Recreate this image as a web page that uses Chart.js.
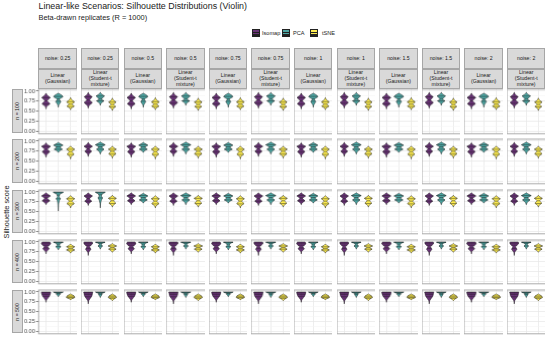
<!DOCTYPE html>
<html>
<head>
<meta charset="utf-8">
<script src="https://cdn.jsdelivr.net/npm/chart.js@4.4.0/dist/chart.umd.min.js"></script>
<style>
  body { margin: 0; width: 550px; height: 341px; background: #fff; position: relative; overflow: hidden;
         font-family: "Liberation Sans", Arial, sans-serif; color: #1a1a1a; }
  .strip { position: absolute; background: #d9d9d9; border: 0.8px solid #a6a6a6; box-sizing: border-box;
           display: flex; align-items: center; justify-content: center; text-align: center;
           font-size: 5.2px; line-height: 5.9px; color: #1a1a1a; white-space: pre; }
  .rowstrip span { transform: rotate(-90deg); white-space: nowrap; }
  .panel { position: absolute; }
  .txt { position: absolute; white-space: nowrap; }
  .key { position: absolute; width: 7.5px; height: 8px; box-sizing: border-box; border: 0.6px solid #222; }
  .key i { position: absolute; left: 0; right: 0; height: 0; border-top: 0.5px solid #222; }
</style>
</head>
<body>
<script>
// ---- data ----
const noiseLevels = ['0.25', '0.25', '0.5', '0.5', '0.75', '0.75', '1', '1', '1.5', '1.5', '2', '2'];
const scenarios = ['Linear\n(Gaussian)', 'Linear\n(Student-t\nmixture)'];
const scenarioOfColumn = [0, 1, 0, 1, 0, 1, 0, 1, 0, 1, 0, 1];
const sampleSizes = [100, 200, 300, 400, 500];
const methods = ['Isomap', 'PCA', 'tSNE'];
const yTicks = [0, 0.25, 0.5, 0.75, 1];
const yMinor = [0.125, 0.375, 0.625, 0.875];

// violin outlines: [silhouette score, half width], quantiles 25/50/75
const shapes = {
  i1g: { k: [[0.56, 0], [0.62, 0.05], [0.69, 0.34], [0.76, 0.08], [0.84, 0.36], [0.90, 0.10], [0.95, 0]], q: [0.68, 0.76, 0.84] },
  i1t: { k: [[0.58, 0], [0.64, 0.06], [0.72, 0.36], [0.78, 0.10], [0.86, 0.34], [0.92, 0.08], [0.97, 0]], q: [0.70, 0.78, 0.86] },
  p1g: { k: [[0.60, 0], [0.66, 0.04], [0.74, 0.22], [0.80, 0.06], [0.86, 0.40], [0.90, 0.30], [0.95, 0]], q: [0.75, 0.81, 0.87] },
  p1t: { k: [[0.65, 0], [0.70, 0.05], [0.76, 0.32], [0.80, 0.08], [0.88, 0.36], [0.94, 0.06], [0.97, 0]], q: [0.76, 0.82, 0.88] },
  t1g: { k: [[0.54, 0], [0.58, 0.05], [0.63, 0.32], [0.68, 0.10], [0.73, 0.34], [0.79, 0.08], [0.84, 0]], q: [0.62, 0.68, 0.74] },
  t1t: { k: [[0.52, 0], [0.57, 0.06], [0.62, 0.30], [0.67, 0.08], [0.73, 0.32], [0.78, 0.08], [0.83, 0]], q: [0.61, 0.67, 0.73] },

  i2g: { k: [[0.60, 0], [0.66, 0.05], [0.74, 0.32], [0.80, 0.09], [0.87, 0.38], [0.92, 0.08], [0.96, 0]], q: [0.73, 0.80, 0.87] },
  i2t: { k: [[0.62, 0], [0.68, 0.05], [0.75, 0.30], [0.81, 0.08], [0.87, 0.36], [0.93, 0.08], [0.97, 0]], q: [0.74, 0.81, 0.87] },
  p2g: { k: [[0.72, 0], [0.76, 0.10], [0.80, 0.34], [0.85, 0.12], [0.90, 0.40], [0.95, 0.10], [0.97, 0]], q: [0.80, 0.86, 0.91] },
  p2t: { k: [[0.68, 0], [0.74, 0.08], [0.80, 0.32], [0.85, 0.10], [0.91, 0.42], [0.96, 0.10], [0.98, 0]], q: [0.80, 0.86, 0.91] },
  t2g: { k: [[0.56, 0], [0.62, 0.05], [0.68, 0.30], [0.74, 0.09], [0.80, 0.34], [0.85, 0.08], [0.88, 0]], q: [0.67, 0.74, 0.80] },
  t2t: { k: [[0.58, 0], [0.63, 0.05], [0.69, 0.32], [0.75, 0.09], [0.80, 0.34], [0.85, 0.06], [0.88, 0]], q: [0.68, 0.75, 0.80] },

  i3g: { k: [[0.68, 0], [0.72, 0.05], [0.78, 0.32], [0.84, 0.09], [0.90, 0.38], [0.95, 0.12], [0.98, 0]], q: [0.78, 0.85, 0.91] },
  i3t: { k: [[0.66, 0], [0.71, 0.05], [0.77, 0.30], [0.83, 0.09], [0.90, 0.36], [0.95, 0.10], [0.98, 0]], q: [0.77, 0.84, 0.90] },
  p3g: { k: [[0.52, 0], [0.70, 0.03], [0.78, 0.08], [0.83, 0.18], [0.88, 0.06], [0.95, 0.14], [0.99, 0.42], [1.00, 0.42]], q: [0.83, 0.92, 0.98] },
  p3t: { k: [[0.60, 0], [0.72, 0.03], [0.80, 0.10], [0.85, 0.20], [0.90, 0.08], [0.96, 0.20], [0.99, 0.42], [1.00, 0.42]], q: [0.85, 0.93, 0.98] },
  t3g: { k: [[0.60, 0], [0.65, 0.05], [0.71, 0.32], [0.77, 0.09], [0.83, 0.34], [0.88, 0.08], [0.91, 0]], q: [0.70, 0.77, 0.83] },
  t3t: { k: [[0.62, 0], [0.66, 0.05], [0.72, 0.30], [0.78, 0.09], [0.84, 0.34], [0.89, 0.06], [0.92, 0]], q: [0.71, 0.78, 0.84] },

  i4g: { k: [[0.70, 0], [0.76, 0.04], [0.83, 0.28], [0.88, 0.12], [0.95, 0.40], [0.99, 0.36], [1.00, 0.30]], q: [0.85, 0.92, 0.97] },
  i4t: { k: [[0.66, 0], [0.74, 0.04], [0.82, 0.24], [0.88, 0.10], [0.95, 0.36], [0.99, 0.38], [1.00, 0.30]], q: [0.84, 0.92, 0.97] },
  p4g: { k: [[0.80, 0], [0.84, 0.06], [0.88, 0.22], [0.92, 0.07], [0.97, 0.20], [0.99, 0.40], [1.00, 0.40]], q: [0.89, 0.95, 0.99] },
  p4t: { k: [[0.82, 0], [0.86, 0.06], [0.90, 0.20], [0.93, 0.07], [0.97, 0.18], [0.99, 0.40], [1.00, 0.40]], q: [0.90, 0.96, 0.99] },
  t4g: { k: [[0.72, 0], [0.76, 0.08], [0.80, 0.34], [0.84, 0.12], [0.88, 0.34], [0.92, 0.10], [0.95, 0]], q: [0.80, 0.84, 0.88] },
  t4t: { k: [[0.74, 0], [0.78, 0.10], [0.82, 0.32], [0.86, 0.10], [0.90, 0.36], [0.94, 0.10], [0.96, 0]], q: [0.82, 0.86, 0.90] },

  i5g: { k: [[0.74, 0], [0.80, 0.04], [0.86, 0.20], [0.90, 0.30], [0.95, 0.36], [0.99, 0.40], [1.00, 0.36]], q: [0.89, 0.94, 0.98] },
  i5t: { k: [[0.70, 0], [0.78, 0.04], [0.85, 0.20], [0.90, 0.32], [0.96, 0.36], [0.99, 0.40], [1.00, 0.36]], q: [0.88, 0.94, 0.98] },
  p5g: { k: [[0.88, 0], [0.91, 0.06], [0.94, 0.16], [0.96, 0.10], [0.98, 0.30], [1.00, 0.42]], q: [0.95, 0.97, 0.99] },
  p5t: { k: [[0.86, 0], [0.90, 0.06], [0.93, 0.16], [0.96, 0.10], [0.98, 0.30], [1.00, 0.42]], q: [0.94, 0.97, 0.99] },
  t5g: { k: [[0.80, 0], [0.83, 0.10], [0.86, 0.36], [0.90, 0.30], [0.93, 0.14], [0.95, 0]], q: [0.85, 0.87, 0.90] },
  t5t: { k: [[0.78, 0], [0.82, 0.12], [0.86, 0.36], [0.90, 0.28], [0.93, 0.12], [0.95, 0]], q: [0.84, 0.87, 0.90] }
};

// which outline sits in each panel: row (n) -> method -> column
const isomapPanels = [
  ['i1g', 'i1t', 'i1g', 'i1t', 'i1g', 'i1t', 'i1g', 'i1t', 'i1g', 'i1t', 'i1g', 'i1t'],
  ['i2g', 'i2t', 'i2g', 'i2t', 'i2g', 'i2t', 'i2g', 'i2t', 'i2g', 'i2t', 'i2g', 'i2t'],
  ['i3g', 'i3t', 'i3g', 'i3t', 'i3g', 'i3t', 'i3g', 'i3t', 'i3g', 'i3t', 'i3g', 'i3t'],
  ['i4g', 'i4t', 'i4g', 'i4t', 'i4g', 'i4t', 'i4g', 'i4t', 'i4g', 'i4t', 'i4g', 'i4t'],
  ['i5g', 'i5t', 'i5g', 'i5t', 'i5g', 'i5t', 'i5g', 'i5t', 'i5g', 'i5t', 'i5g', 'i5t']
];
const pcaPanels = [
  ['p1g', 'p1t', 'p1g', 'p1t', 'p1g', 'p1t', 'p1g', 'p1t', 'p1g', 'p1t', 'p1g', 'p1t'],
  ['p2g', 'p2t', 'p2g', 'p2t', 'p2g', 'p2t', 'p2g', 'p2t', 'p2g', 'p2t', 'p2g', 'p2t'],
  ['p3g', 'p3t', 'p2g', 'p2t', 'p2g', 'p2t', 'p2g', 'p2t', 'p2g', 'p2t', 'p2g', 'p2t'],
  ['p4g', 'p4t', 'p4g', 'p4t', 'p4g', 'p4t', 'p4g', 'p4t', 'p4g', 'p4t', 'p4g', 'p4t'],
  ['p5g', 'p5t', 'p5g', 'p5t', 'p5g', 'p5t', 'p5g', 'p5t', 'p5g', 'p5t', 'p5g', 'p5t']
];
const tsnePanels = [
  ['t1g', 't1t', 't1g', 't1t', 't1g', 't1t', 't1g', 't1t', 't1g', 't1t', 't1g', 't1t'],
  ['t2g', 't2t', 't2g', 't2t', 't2g', 't2t', 't2g', 't2t', 't2g', 't2t', 't2g', 't2t'],
  ['t3g', 't3t', 't3g', 't3t', 't3g', 't3t', 't3g', 't3t', 't3g', 't3t', 't3g', 't3t'],
  ['t4g', 't4t', 't4g', 't4t', 't4g', 't4t', 't4g', 't4t', 't4g', 't4t', 't4g', 't4t'],
  ['t5g', 't5t', 't5g', 't5t', 't5g', 't5t', 't5g', 't5t', 't5g', 't5t', 't5g', 't5t']
];

// ---- look ----
const fills = ['rgba(68, 1, 84, 0.8)', 'rgba(33, 144, 140, 0.8)', 'rgba(253, 231, 37, 0.8)'];
const violinScale = 0.97;
const colLeft0 = 38.3, colPitch = 42.6, panelW = 38.6;
const rowTop0 = 89.3, rowPitch = 50.1, panelH = 43.8;
const axisW = 18.3, padY = 5;

function add(cls, css, html) {
  const d = document.createElement('div');
  d.className = cls;
  Object.assign(d.style, css);
  if (html !== undefined) d.innerHTML = html;
  document.body.appendChild(d);
  return d;
}

// titles
add('txt', { left: '38.5px', top: '1px', fontSize: '8.9px' }, 'Linear-like Scenarios: Silhouette Distributions (Violin)');
add('txt', { left: '38.5px', top: '12.5px', fontSize: '7.4px' }, 'Beta-drawn replicates (R = 1000)');
add('txt', { left: '6px', top: '211.5px', fontSize: '7.4px', transform: 'translate(-50%, -50%) rotate(-90deg)' }, 'Silhouette score');

// legend
const keyX = [252, 282, 310];
const labelX = [262, 293, 322];
methods.forEach((m, i) => {
  const k = add('key', { left: keyX[i] + 'px', top: '29px', background: fills[i] });
  [0.25, 0.5, 0.75].forEach(f => {
    const ln = document.createElement('i');
    ln.style.top = (f * 7) + 'px';
    k.appendChild(ln);
  });
  add('txt', { left: labelX[i] + 'px', top: '30px', fontSize: '5.6px', color: '#1a1a1a' }, m);
});

// column strips
noiseLevels.forEach((nz, c) => {
  const x = colLeft0 + c * colPitch;
  add('strip', { left: x + 'px', top: '48.3px', width: panelW + 'px', height: '21px' }, 'noise: ' + nz);
  add('strip', { left: x + 'px', top: '69.3px', width: panelW + 'px', height: '19.6px' },
      scenarios[scenarioOfColumn[c]]);
});

// row strips
sampleSizes.forEach((n, r) => {
  add('strip rowstrip', { left: '12px', top: (rowTop0 + r * rowPitch) + 'px', width: '11px', height: panelH + 'px' },
      '<span>n = ' + n + '</span>');
});

function widthAt(knots, v) {
  for (let j = 1; j < knots.length; j++) {
    const [y0, w0] = knots[j - 1], [y1, w1] = knots[j];
    if (v >= y0 && v <= y1) return w0 + (w1 - w0) * (v - y0) / (y1 - y0 || 1);
  }
  return 0;
}

function violinPlugin(items) {
  return {
    id: 'violins',
    afterDatasetsDraw(chart) {
      const { ctx, scales: { x, y } } = chart;
      items.forEach((v, i) => {
        const xc = i + 1;
        const pts = v.k;
        const half = w => w * violinScale;
        ctx.save();
        ctx.beginPath();
        pts.forEach(([val, w], j) => {
          const px = x.getPixelForValue(xc + half(w)), py = y.getPixelForValue(val);
          if (j) ctx.lineTo(px, py); else ctx.moveTo(px, py);
        });
        for (let j = pts.length - 1; j >= 0; j--) {
          ctx.lineTo(x.getPixelForValue(xc - half(pts[j][1])), y.getPixelForValue(pts[j][0]));
        }
        ctx.closePath();
        ctx.fillStyle = fills[i];
        ctx.fill();
        ctx.strokeStyle = '#1a1a1a';
        ctx.lineWidth = 0.45;
        ctx.stroke();
        v.q.forEach(qv => {
          const w = half(widthAt(pts, qv));
          const py = y.getPixelForValue(qv);
          ctx.beginPath();
          ctx.moveTo(x.getPixelForValue(xc - w), py);
          ctx.lineTo(x.getPixelForValue(xc + w), py);
          ctx.stroke();
        });
        ctx.restore();
      });
    }
  };
}

const borderPlugin = {
  id: 'panelBorder',
  afterDraw(chart) {
    const { ctx, chartArea: a } = chart;
    ctx.save();
    ctx.strokeStyle = '#ababab';
    ctx.lineWidth = 1;
    ctx.strokeRect(a.left, a.top, a.right - a.left, a.bottom - a.top);
    ctx.restore();
  }
};

function makePanel(r, c) {
  const first = c === 0;
  const aw = first ? axisW : 0;
  const box = add('panel', {
    left: (colLeft0 + c * colPitch - aw) + 'px',
    top: (rowTop0 + r * rowPitch - padY) + 'px',
    width: (panelW + aw) + 'px',
    height: (panelH + 2 * padY) + 'px'
  });
  const cv = document.createElement('canvas');
  box.appendChild(cv);
  const items = [isomapPanels[r][c], pcaPanels[r][c], tsnePanels[r][c]].map(k => shapes[k]);
  const isMajor = v => yTicks.some(t => Math.abs(t - v) < 1e-6);

  new Chart(cv, {
    type: 'scatter',
    data: { datasets: [] },
    options: {
      responsive: true,
      maintainAspectRatio: false,
      animation: false,
      events: [],
      layout: { padding: { top: padY, bottom: padY, left: 0, right: 0 } },
      plugins: { legend: { display: false }, tooltip: { enabled: false } },
      scales: {
        x: {
          type: 'linear', min: 0.4, max: 3.6,
          afterBuildTicks: s => { s.ticks = [1, 2, 3].map(v => ({ value: v })); },
          ticks: { display: false },
          grid: { color: '#e6e6e6', lineWidth: 0.7, drawTicks: false },
          border: { display: false },
          afterFit: s => { s.height = 0; }
        },
        y: {
          type: 'linear', min: -0.05, max: 1.05,
          afterBuildTicks: s => { s.ticks = yTicks.concat(yMinor).map(v => ({ value: v })); },
          ticks: {
            display: first, autoSkip: false, padding: 1, color: '#4d4d4d',
            font: { size: 5.6, family: '"Liberation Sans", Arial, sans-serif' },
            callback: v => isMajor(v) ? v.toFixed(2) : ''
          },
          grid: {
            color: ctx => isMajor(ctx.tick.value) ? '#e6e6e6' : '#f2f2f2',
            lineWidth: ctx => isMajor(ctx.tick.value) ? 0.7 : 0.5,
            drawTicks: first, tickLength: 2.5,
            tickColor: ctx => isMajor(ctx.tick.value) ? '#333333' : 'rgba(0,0,0,0)',
            tickWidth: 0.6
          },
          border: { display: false },
          afterFit: s => { s.width = aw; }
        }
      }
    },
    plugins: [violinPlugin(items), borderPlugin]
  });
}

for (let r = 0; r < sampleSizes.length; r++) {
  for (let c = 0; c < noiseLevels.length; c++) makePanel(r, c);
}
</script>
</body>
</html>
